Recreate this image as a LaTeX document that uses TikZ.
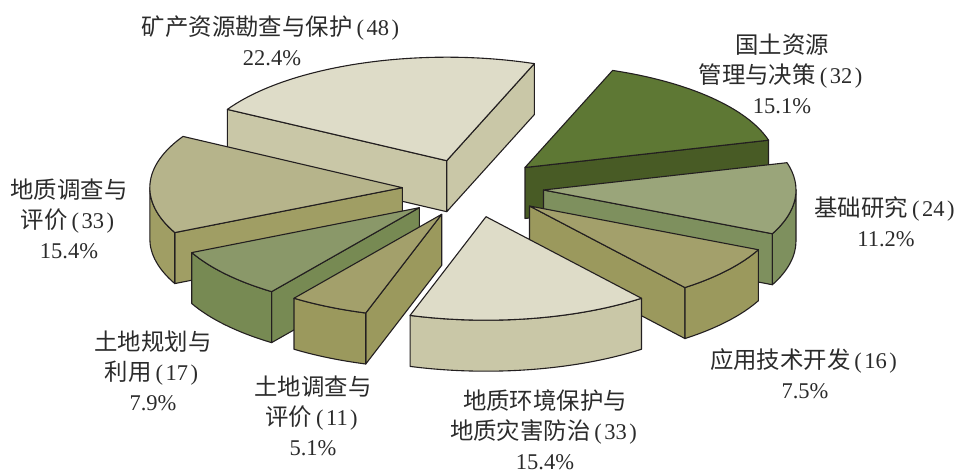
\documentclass[tikz,border=0pt]{standalone}
\usepackage{fontspec}
\setmainfont{Liberation Serif}
\newfontfamily\cjk[Scale=1.04]{Noto Sans CJK SC}
\definecolor{edge}{HTML}{231F20}
\definecolor{txt}{HTML}{2B2B2B}
\definecolor{aT}{HTML}{DEDCC8}\definecolor{aW}{HTML}{C9C7A7}
\definecolor{bT}{HTML}{5E7834}\definecolor{bW}{HTML}{485B25}
\definecolor{cT}{HTML}{9AA57A}\definecolor{cW}{HTML}{7E905E}
\definecolor{dT}{HTML}{A3A06B}\definecolor{dW}{HTML}{9B995D}
\definecolor{gT}{HTML}{8A9869}\definecolor{gW}{HTML}{778A53}
\definecolor{hT}{HTML}{B6B48B}\definecolor{hW}{HTML}{A09E64}
\newcommand\topface[3]{\filldraw[pie, fill=#1] (0,0) -- (#2:252.5pt and 103.5pt) arc[start angle=#2, end angle=#3, x radius=252.5pt, y radius=103.5pt] -- cycle;}
\newcommand\radwall[2]{\filldraw[pie, fill=#1] (0,0) -- (#2:252.5pt and 103.5pt) -- ++(0pt,-51pt) -- (0pt,-51pt) -- cycle;}
\newcommand\outwall[3]{\filldraw[pie, fill=#1] (#2:252.5pt and 103.5pt) arc[start angle=#2, end angle=#3, x radius=252.5pt, y radius=103.5pt] -- ++(0pt,-51pt) arc[start angle=#3, end angle=#2, x radius=252.5pt, y radius=103.5pt] -- cycle;}
\newcommand\lp{\kern4pt(\kern2.5pt}
\newcommand\rp{\kern2.5pt)\kern3pt}
\tikzset{
  pie/.style={draw=edge, line width=1.1pt, line join=round},
  lbl/.style={align=center, font=\fontsize{22.5}{30}\selectfont, text=txt, inner sep=0pt},
}
\begin{document}
\begin{tikzpicture}[x=1pt,y=1pt]
\useasboundingbox (0,0) rectangle (958,473);
% S1 矿产资源勘查与保护
\begin{scope}[shift={(446.7,312.3)}]
  \radwall{aW}{150.3}
  \radwall{aW}{69.7}
  \topface{aT}{69.7}{150.3}
\end{scope}
% S2 国土资源管理与决策
\begin{scope}[shift={(525,305.5)}]
  \radwall{bW}{15.3}
  \topface{bT}{15.3}{69.7}
\end{scope}
% S3 基础研究
\begin{scope}[shift={(543.5,283)}]
  \radwall{cW}{-25}
  \outwall{cW}{-25}{0}
  \topface{cT}{-25}{15.3}
\end{scope}
% S4 应用技术开发
\begin{scope}[shift={(529.5,267)}]
  \radwall{dW}{-52}
  \outwall{dW}{-52}{-25}
  \topface{dT}{-52}{-25}
\end{scope}
% S8 地质调查与评价
\begin{scope}[shift={(402.3,285.3)}]
  \radwall{hW}{205.7}
  \outwall{hW}{180}{205.7}
  \topface{hT}{150.3}{205.7}
\end{scope}
% S7 土地规划与利用
\begin{scope}[shift={(419.3,265.3)}]
  \radwall{gW}{-125.8}
  \outwall{gW}{-154.3}{-125.8}
  \topface{gT}{-154.3}{-125.8}
\end{scope}
% S6 土地调查与评价
\begin{scope}[shift={(441.7,258.7)}]
  \radwall{dW}{-107.5}
  \outwall{dW}{-125.8}{-107.5}
  \topface{dT}{-125.8}{-107.5}
\end{scope}
% S5 地质环境保护与地质灾害防治
\begin{scope}[shift={(486,256.3)}]
  \outwall{aW}{-107.5}{-52}
  \topface{aT}{-107.5}{-52}
\end{scope}
% labels
\node[lbl] (l1) at (272,432) {{\cjk 矿产资源勘查与保护}\lp48\rp\\22.4\%};
\node[lbl] (l2) at (782,399.5) {{\cjk 国土资源}\\{\cjk 管理与决策}\lp32\rp\\15.1\%};
\node[lbl] (l3) at (886,251.3) {{\cjk 基础研究}\lp24\rp\\11.2\%};
\node[lbl] (l4) at (805,99) {{\cjk 应用技术开发}\lp16\rp\\7.5\%};
\node[lbl] (l5) at (545,43) {{\cjk 地质环境保护与}\\{\cjk 地质灾害防治}\lp33\rp\\15.4\%};
\node[lbl] (l6) at (313,57) {{\cjk 土地调查与}\\{\cjk 评价}\lp11\rp\\5.1\%};
\node[lbl] (l7) at (153,102) {{\cjk 土地规划与}\\{\cjk 利用}\lp17\rp\\7.9\%};
\node[lbl] (l8) at (69,254) {{\cjk 地质调查与}\\{\cjk 评价}\lp33\rp\\15.4\%};
\end{tikzpicture}
\end{document}
